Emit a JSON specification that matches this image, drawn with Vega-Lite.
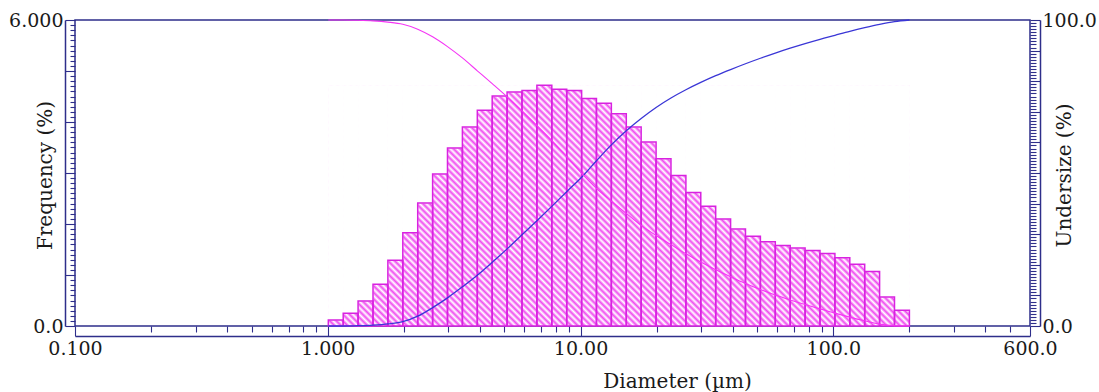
{
"$schema": "https://vega.github.io/schema/vega-lite/v6.json",
"width": 955, "height": 306,
"autosize": {"type": "none"},
"padding": {"left": 75, "top": 20, "right": 69, "bottom": 66},
"background": "white",
"config": {
  "view": {"stroke": "#2e2e8a", "strokeWidth": 1.5},
  "axis": {"grid": false, "domainColor": "#2e2e8a", "domainWidth": 1.5, "tickColor": "#2e2e8a", "tickWidth": 1.1,
    "labelFont": "DejaVu Serif", "labelFontSize": 19, "labelColor": "#1a1a1a", "labelFlush": false, "labelOverlap": false, "labelBound": false,
    "titleFont": "DejaVu Serif", "titleFontSize": 20, "titleFontWeight": "normal", "titleColor": "#1a1a1a"}
},
"datasets": {
  "bars": [
    {"lo":1.005,"hi":1.151,"freq":0.12},{"lo":1.151,"hi":1.318,"freq":0.25},{"lo":1.318,"hi":1.51,"freq":0.49},
    {"lo":1.51,"hi":1.729,"freq":0.82},{"lo":1.729,"hi":1.981,"freq":1.29},{"lo":1.981,"hi":2.269,"freq":1.83},
    {"lo":2.269,"hi":2.599,"freq":2.41},{"lo":2.599,"hi":2.976,"freq":2.98},{"lo":2.976,"hi":3.409,"freq":3.49},
    {"lo":3.409,"hi":3.905,"freq":3.9},{"lo":3.905,"hi":4.472,"freq":4.23},{"lo":4.472,"hi":5.122,"freq":4.51},
    {"lo":5.122,"hi":5.867,"freq":4.59},{"lo":5.867,"hi":6.72,"freq":4.62},{"lo":6.72,"hi":7.697,"freq":4.72},
    {"lo":7.697,"hi":8.816,"freq":4.64},{"lo":8.816,"hi":10.1,"freq":4.62},{"lo":10.1,"hi":11.56,"freq":4.46},
    {"lo":11.56,"hi":13.24,"freq":4.37},{"lo":13.24,"hi":15.17,"freq":4.16},{"lo":15.17,"hi":17.37,"freq":3.9},
    {"lo":17.37,"hi":19.9,"freq":3.61},{"lo":19.9,"hi":22.79,"freq":3.28},{"lo":22.79,"hi":26.11,"freq":2.95},
    {"lo":26.11,"hi":29.9,"freq":2.62},{"lo":29.9,"hi":34.25,"freq":2.35},{"lo":34.25,"hi":39.23,"freq":2.1},
    {"lo":39.23,"hi":44.93,"freq":1.9},{"lo":44.93,"hi":51.47,"freq":1.76},{"lo":51.47,"hi":58.95,"freq":1.65},
    {"lo":58.95,"hi":67.52,"freq":1.58},{"lo":67.52,"hi":77.34,"freq":1.53},{"lo":77.34,"hi":88.58,"freq":1.48},
    {"lo":88.58,"hi":101.46,"freq":1.42},{"lo":101.46,"hi":116.21,"freq":1.34},{"lo":116.21,"hi":133.1,"freq":1.21},
    {"lo":133.1,"hi":152.45,"freq":1.07},{"lo":152.45,"hi":174.61,"freq":0.57},{"lo":174.61,"hi":200,"freq":0.31}
  ],
  "curves": [
    {"d":1.005,"under":0,"over":100},{"d":1.151,"under":0,"over":100},{"d":1.318,"under":0.1,"over":99.9},
    {"d":1.51,"under":0.3,"over":99.7},{"d":1.729,"under":0.7,"over":99.3},{"d":1.981,"under":1.4,"over":98.6},
    {"d":2.269,"under":3.2,"over":97.0},{"d":2.599,"under":6.0,"over":94.5},{"d":2.976,"under":9.2,"over":91.3},
    {"d":3.409,"under":12.8,"over":87.6},{"d":3.905,"under":16.6,"over":83.4},{"d":4.472,"under":20.8,"over":79.2},
    {"d":5.122,"under":25.2,"over":74.9},{"d":5.867,"under":29.8,"over":70.3},{"d":6.72,"under":34.4,"over":65.5},
    {"d":7.697,"under":39.1,"over":60.6},{"d":8.816,"under":43.9,"over":55.3},{"d":10.1,"under":48.6,"over":49.9},
    {"d":11.56,"under":54.0,"over":45.0},{"d":13.24,"under":59.2,"over":40.8},{"d":15.17,"under":63.8,"over":36.8},
    {"d":17.37,"under":67.8,"over":32.9},{"d":19.9,"under":71.4,"over":29.6},{"d":22.79,"under":74.5,"over":26.6},
    {"d":26.11,"under":77.2,"over":23.6},{"d":29.9,"under":79.6,"over":20.9},{"d":34.25,"under":81.8,"over":18.4},
    {"d":39.23,"under":83.8,"over":16.1},{"d":44.93,"under":85.7,"over":13.9},{"d":51.47,"under":87.5,"over":11.9},
    {"d":58.95,"under":89.2,"over":10.1},{"d":67.52,"under":90.8,"over":8.5},{"d":77.34,"under":92.3,"over":7.0},
    {"d":88.58,"under":93.7,"over":5.6},{"d":101.46,"under":95.0,"over":4.2},{"d":116.21,"under":96.3,"over":2.9},
    {"d":133.1,"under":97.5,"over":1.7},{"d":152.45,"under":98.6,"over":0.6},{"d":174.61,"under":99.5,"over":0.1},
    {"d":200,"under":100,"over":0}
  ]
},
"layer": [
  {
    "data": {"name": "bars"},
    "layer": [
      {
        "transform": [{"aggregate": [{"op": "min", "field": "lo", "as": "lo"}, {"op": "max", "field": "hi", "as": "hi"}, {"op": "max", "field": "freq", "as": "fmax"}]}],
        "mark": {"type": "rect", "strokeWidth": 0, "fill": {"gradient": "linear", "x1": 0, "y1": 1, "x2": 1.2071, "y2": 0.5, "stops": [
{"offset":0,"color":"#f04cf0"},{"offset":0.004,"color":"#fff"},{"offset":0.008,"color":"#f04cf0"},{"offset":0.012,"color":"#fff"},{"offset":0.016,"color":"#f04cf0"},{"offset":0.02,"color":"#fff"},{"offset":0.024,"color":"#f04cf0"},{"offset":0.028,"color":"#fff"},{"offset":0.032,"color":"#f04cf0"},{"offset":0.036,"color":"#fff"},{"offset":0.04,"color":"#f04cf0"},{"offset":0.044,"color":"#fff"},{"offset":0.048,"color":"#f04cf0"},{"offset":0.052,"color":"#fff"},{"offset":0.056,"color":"#f04cf0"},{"offset":0.06,"color":"#fff"},{"offset":0.064,"color":"#f04cf0"},{"offset":0.068,"color":"#fff"},{"offset":0.072,"color":"#f04cf0"},{"offset":0.076,"color":"#fff"},{"offset":0.08,"color":"#f04cf0"},{"offset":0.084,"color":"#fff"},{"offset":0.088,"color":"#f04cf0"},{"offset":0.092,"color":"#fff"},{"offset":0.096,"color":"#f04cf0"},
{"offset":0.1,"color":"#fff"},{"offset":0.104,"color":"#f04cf0"},{"offset":0.108,"color":"#fff"},{"offset":0.112,"color":"#f04cf0"},{"offset":0.116,"color":"#fff"},{"offset":0.12,"color":"#f04cf0"},{"offset":0.124,"color":"#fff"},{"offset":0.128,"color":"#f04cf0"},{"offset":0.132,"color":"#fff"},{"offset":0.136,"color":"#f04cf0"},{"offset":0.14,"color":"#fff"},{"offset":0.144,"color":"#f04cf0"},{"offset":0.148,"color":"#fff"},{"offset":0.152,"color":"#f04cf0"},{"offset":0.156,"color":"#fff"},{"offset":0.16,"color":"#f04cf0"},{"offset":0.164,"color":"#fff"},{"offset":0.168,"color":"#f04cf0"},{"offset":0.172,"color":"#fff"},{"offset":0.176,"color":"#f04cf0"},{"offset":0.18,"color":"#fff"},{"offset":0.184,"color":"#f04cf0"},{"offset":0.188,"color":"#fff"},{"offset":0.192,"color":"#f04cf0"},{"offset":0.196,"color":"#fff"},
{"offset":0.2,"color":"#f04cf0"},{"offset":0.204,"color":"#fff"},{"offset":0.208,"color":"#f04cf0"},{"offset":0.212,"color":"#fff"},{"offset":0.216,"color":"#f04cf0"},{"offset":0.22,"color":"#fff"},{"offset":0.224,"color":"#f04cf0"},{"offset":0.228,"color":"#fff"},{"offset":0.232,"color":"#f04cf0"},{"offset":0.236,"color":"#fff"},{"offset":0.24,"color":"#f04cf0"},{"offset":0.244,"color":"#fff"},{"offset":0.248,"color":"#f04cf0"},{"offset":0.252,"color":"#fff"},{"offset":0.256,"color":"#f04cf0"},{"offset":0.26,"color":"#fff"},{"offset":0.264,"color":"#f04cf0"},{"offset":0.268,"color":"#fff"},{"offset":0.272,"color":"#f04cf0"},{"offset":0.276,"color":"#fff"},{"offset":0.28,"color":"#f04cf0"},{"offset":0.284,"color":"#fff"},{"offset":0.288,"color":"#f04cf0"},{"offset":0.292,"color":"#fff"},{"offset":0.296,"color":"#f04cf0"},
{"offset":0.3,"color":"#fff"},{"offset":0.304,"color":"#f04cf0"},{"offset":0.308,"color":"#fff"},{"offset":0.312,"color":"#f04cf0"},{"offset":0.316,"color":"#fff"},{"offset":0.32,"color":"#f04cf0"},{"offset":0.324,"color":"#fff"},{"offset":0.328,"color":"#f04cf0"},{"offset":0.332,"color":"#fff"},{"offset":0.336,"color":"#f04cf0"},{"offset":0.34,"color":"#fff"},{"offset":0.344,"color":"#f04cf0"},{"offset":0.348,"color":"#fff"},{"offset":0.352,"color":"#f04cf0"},{"offset":0.356,"color":"#fff"},{"offset":0.36,"color":"#f04cf0"},{"offset":0.364,"color":"#fff"},{"offset":0.368,"color":"#f04cf0"},{"offset":0.372,"color":"#fff"},{"offset":0.376,"color":"#f04cf0"},{"offset":0.38,"color":"#fff"},{"offset":0.384,"color":"#f04cf0"},{"offset":0.388,"color":"#fff"},{"offset":0.392,"color":"#f04cf0"},{"offset":0.396,"color":"#fff"},
{"offset":0.4,"color":"#f04cf0"},{"offset":0.404,"color":"#fff"},{"offset":0.408,"color":"#f04cf0"},{"offset":0.412,"color":"#fff"},{"offset":0.416,"color":"#f04cf0"},{"offset":0.42,"color":"#fff"},{"offset":0.424,"color":"#f04cf0"},{"offset":0.428,"color":"#fff"},{"offset":0.432,"color":"#f04cf0"},{"offset":0.436,"color":"#fff"},{"offset":0.44,"color":"#f04cf0"},{"offset":0.444,"color":"#fff"},{"offset":0.448,"color":"#f04cf0"},{"offset":0.452,"color":"#fff"},{"offset":0.456,"color":"#f04cf0"},{"offset":0.46,"color":"#fff"},{"offset":0.464,"color":"#f04cf0"},{"offset":0.468,"color":"#fff"},{"offset":0.472,"color":"#f04cf0"},{"offset":0.476,"color":"#fff"},{"offset":0.48,"color":"#f04cf0"},{"offset":0.484,"color":"#fff"},{"offset":0.488,"color":"#f04cf0"},{"offset":0.492,"color":"#fff"},{"offset":0.496,"color":"#f04cf0"},
{"offset":0.5,"color":"#fff"},{"offset":0.504,"color":"#f04cf0"},{"offset":0.508,"color":"#fff"},{"offset":0.512,"color":"#f04cf0"},{"offset":0.516,"color":"#fff"},{"offset":0.52,"color":"#f04cf0"},{"offset":0.524,"color":"#fff"},{"offset":0.528,"color":"#f04cf0"},{"offset":0.532,"color":"#fff"},{"offset":0.536,"color":"#f04cf0"},{"offset":0.54,"color":"#fff"},{"offset":0.544,"color":"#f04cf0"},{"offset":0.548,"color":"#fff"},{"offset":0.552,"color":"#f04cf0"},{"offset":0.556,"color":"#fff"},{"offset":0.56,"color":"#f04cf0"},{"offset":0.564,"color":"#fff"},{"offset":0.568,"color":"#f04cf0"},{"offset":0.572,"color":"#fff"},{"offset":0.576,"color":"#f04cf0"},{"offset":0.58,"color":"#fff"},{"offset":0.584,"color":"#f04cf0"},{"offset":0.588,"color":"#fff"},{"offset":0.592,"color":"#f04cf0"},{"offset":0.596,"color":"#fff"},
{"offset":0.6,"color":"#f04cf0"},{"offset":0.604,"color":"#fff"},{"offset":0.608,"color":"#f04cf0"},{"offset":0.612,"color":"#fff"},{"offset":0.616,"color":"#f04cf0"},{"offset":0.62,"color":"#fff"},{"offset":0.624,"color":"#f04cf0"},{"offset":0.628,"color":"#fff"},{"offset":0.632,"color":"#f04cf0"},{"offset":0.636,"color":"#fff"},{"offset":0.64,"color":"#f04cf0"},{"offset":0.644,"color":"#fff"},{"offset":0.648,"color":"#f04cf0"},{"offset":0.652,"color":"#fff"},{"offset":0.656,"color":"#f04cf0"},{"offset":0.66,"color":"#fff"},{"offset":0.664,"color":"#f04cf0"},{"offset":0.668,"color":"#fff"},{"offset":0.672,"color":"#f04cf0"},{"offset":0.676,"color":"#fff"},{"offset":0.68,"color":"#f04cf0"},{"offset":0.684,"color":"#fff"},{"offset":0.688,"color":"#f04cf0"},{"offset":0.692,"color":"#fff"},{"offset":0.696,"color":"#f04cf0"},
{"offset":0.7,"color":"#fff"},{"offset":0.704,"color":"#f04cf0"},{"offset":0.708,"color":"#fff"},{"offset":0.712,"color":"#f04cf0"},{"offset":0.716,"color":"#fff"},{"offset":0.72,"color":"#f04cf0"},{"offset":0.724,"color":"#fff"},{"offset":0.728,"color":"#f04cf0"},{"offset":0.732,"color":"#fff"},{"offset":0.736,"color":"#f04cf0"},{"offset":0.74,"color":"#fff"},{"offset":0.744,"color":"#f04cf0"},{"offset":0.748,"color":"#fff"},{"offset":0.752,"color":"#f04cf0"},{"offset":0.756,"color":"#fff"},{"offset":0.76,"color":"#f04cf0"},{"offset":0.764,"color":"#fff"},{"offset":0.768,"color":"#f04cf0"},{"offset":0.772,"color":"#fff"},{"offset":0.776,"color":"#f04cf0"},{"offset":0.78,"color":"#fff"},{"offset":0.784,"color":"#f04cf0"},{"offset":0.788,"color":"#fff"},{"offset":0.792,"color":"#f04cf0"},{"offset":0.796,"color":"#fff"},
{"offset":0.8,"color":"#f04cf0"},{"offset":0.804,"color":"#fff"},{"offset":0.808,"color":"#f04cf0"},{"offset":0.812,"color":"#fff"},{"offset":0.816,"color":"#f04cf0"},{"offset":0.82,"color":"#fff"},{"offset":0.824,"color":"#f04cf0"},{"offset":0.828,"color":"#fff"},{"offset":0.832,"color":"#f04cf0"},{"offset":0.836,"color":"#fff"},{"offset":0.84,"color":"#f04cf0"},{"offset":0.844,"color":"#fff"},{"offset":0.848,"color":"#f04cf0"},{"offset":0.852,"color":"#fff"},{"offset":0.856,"color":"#f04cf0"},{"offset":0.86,"color":"#fff"},{"offset":0.864,"color":"#f04cf0"},{"offset":0.868,"color":"#fff"},{"offset":0.872,"color":"#f04cf0"},{"offset":0.876,"color":"#fff"},{"offset":0.88,"color":"#f04cf0"},{"offset":0.884,"color":"#fff"},{"offset":0.888,"color":"#f04cf0"},{"offset":0.892,"color":"#fff"},{"offset":0.896,"color":"#f04cf0"},
{"offset":0.9,"color":"#fff"},{"offset":0.904,"color":"#f04cf0"},{"offset":0.908,"color":"#fff"},{"offset":0.912,"color":"#f04cf0"},{"offset":0.916,"color":"#fff"},{"offset":0.92,"color":"#f04cf0"},{"offset":0.924,"color":"#fff"},{"offset":0.928,"color":"#f04cf0"},{"offset":0.932,"color":"#fff"},{"offset":0.936,"color":"#f04cf0"},{"offset":0.94,"color":"#fff"},{"offset":0.944,"color":"#f04cf0"},{"offset":0.948,"color":"#fff"},{"offset":0.952,"color":"#f04cf0"},{"offset":0.956,"color":"#fff"},{"offset":0.96,"color":"#f04cf0"},{"offset":0.964,"color":"#fff"},{"offset":0.968,"color":"#f04cf0"},{"offset":0.972,"color":"#fff"},{"offset":0.976,"color":"#f04cf0"},{"offset":0.98,"color":"#fff"},{"offset":0.984,"color":"#f04cf0"},{"offset":0.988,"color":"#fff"},{"offset":0.992,"color":"#f04cf0"},{"offset":0.996,"color":"#fff"},
{"offset":1,"color":"#f04cf0"}
        ]}},
        "encoding": {
          "x": {"field": "lo", "type": "quantitative", "scale": {"type": "log", "domain": [0.1, 600], "nice": false},
            "axis": {"orient": "bottom", "offset": 10, "values": [0.1, 1, 10, 100, 600],
              "labelExpr": "datum.value==0.1?'0.100':datum.value==1?'1.000':datum.value==10?'10.00':datum.value==100?'100.0':'600.0'",
              "tickSize": -10, "labelPadding": 13, "labelBaseline": "top",
              "title": "Diameter (µm)", "titleX": 602, "titleY": 51, "titleBaseline": "alphabetic", "titleAlign": "center", "titleAnchor": null}},
          "x2": {"field": "hi"},
          "y": {"field": "fmax", "type": "quantitative", "scale": {"domain": [0, 6], "nice": false, "zero": true},
            "axis": {"orient": "left", "offset": 10, "values": [0, 1, 2, 3, 4, 5, 6],
              "labelExpr": "datum.value==0?'0.0':datum.value==6?'6.000':''",
              "tickSize": -10, "labelPadding": 12, "labelBaseline": "middle",
              "title": "Frequency (%)", "titleAngle": -90, "titleX": -20, "titleY": 155, "titleAlign": "center", "titleBaseline": "middle"}},
          "y2": {"datum": 0}
        }
      },
      {
        "transform": [{"joinaggregate": [{"op": "max", "field": "freq", "as": "fmax"}]}],
        "mark": {"type": "rect", "fill": "white", "stroke": "white", "strokeWidth": 1},
        "encoding": {
          "x": {"field": "lo", "type": "quantitative"},
          "x2": {"field": "hi"},
          "y": {"field": "freq", "type": "quantitative",
            "axis": {"orient": "left", "offset": 0, "domain": false, "labels": false, "title": null, "tickSize": 5,
              "values": [0.1,0.2,0.3,0.4,0.5,0.6,0.7,0.8,0.9,1.1,1.2,1.3,1.4,1.5,1.6,1.7,1.8,1.9,2.1,2.2,2.3,2.4,2.5,2.6,2.7,2.8,2.9,3.1,3.2,3.3,3.4,3.5,3.6,3.7,3.8,3.9,4.1,4.2,4.3,4.4,4.5,4.6,4.7,4.8,4.9,5.1,5.2,5.3,5.4,5.5,5.6,5.7,5.8,5.9]}},
          "y2": {"field": "fmax"}
        }
      },
      {
        "mark": {"type": "rect", "fill": "transparent", "stroke": "#d822e0", "strokeWidth": 1.5},
        "encoding": {
          "x": {"field": "lo", "type": "quantitative"},
          "x2": {"field": "hi"},
          "y": {"field": "freq", "type": "quantitative", "axis": null},
          "y2": {"datum": 0}
        }
      }
    ],
    "resolve": {"axis": {"y": "independent"}}
  },
  {
    "data": {"name": "curves"},
    "layer": [
      {
        "mark": {"type": "line", "color": "#3a36d6", "strokeWidth": 1.3, "interpolate": "monotone"},
        "encoding": {
          "x": {"field": "d", "type": "quantitative",
            "axis": {"orient": "bottom", "offset": 0, "domain": false, "labels": false, "title": null, "tickSize": 6,
              "values": [0.2,0.3,0.4,0.5,0.6,0.7,0.8,0.9,2,3,4,5,6,7,8,9,20,30,40,50,60,70,80,90,200,300,400,500]}},
          "y": {"field": "under", "type": "quantitative", "scale": {"domain": [0, 100], "nice": false},
            "axis": {"orient": "right", "offset": 10, "values": [0,10,20,30,40,50,60,70,80,90,100],
              "labelExpr": "datum.value==0?'0.0':datum.value==100?'100.0':''",
              "tickSize": -10, "labelPadding": 12, "labelBaseline": "middle",
              "title": "Undersize (%)", "titleAngle": -90, "titleX": 24, "titleY": 155, "titleAlign": "center", "titleBaseline": "middle"}}
        }
      },
      {
        "mark": {"type": "line", "color": "#f535f5", "strokeWidth": 1.1, "interpolate": "monotone"},
        "encoding": {
          "x": {"field": "d", "type": "quantitative"},
          "y": {"field": "over", "type": "quantitative",
            "axis": {"orient": "right", "offset": 0, "domain": false, "labels": false, "title": null, "tickSize": 6,
              "values": [1,2,3,4,5,6,7,8,9,11,12,13,14,15,16,17,18,19,21,22,23,24,25,26,27,28,29,31,32,33,34,35,36,37,38,39,41,42,43,44,45,46,47,48,49,51,52,53,54,55,56,57,58,59,61,62,63,64,65,66,67,68,69,71,72,73,74,75,76,77,78,79,81,82,83,84,85,86,87,88,89,91,92,93,94,95,96,97,98,99]}}
        }
      }
    ],
    "resolve": {"axis": {"y": "independent"}}
  }
],
"resolve": {"scale": {"y": "independent"}, "axis": {"x": "independent"}}
}
